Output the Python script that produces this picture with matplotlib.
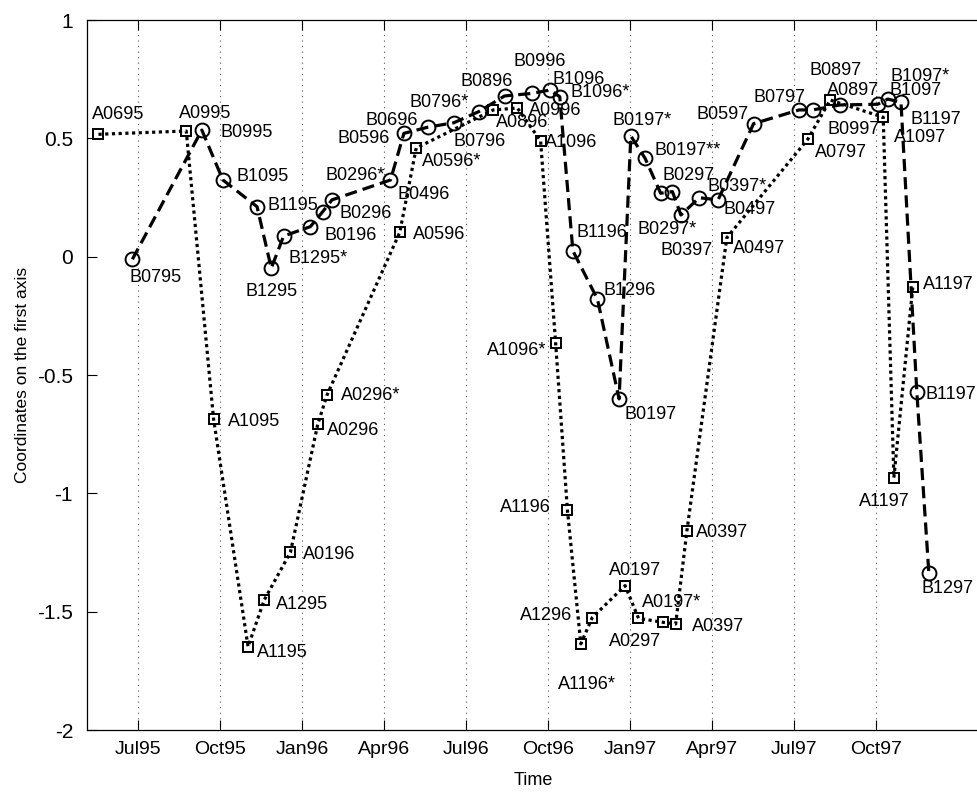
"""First-axis coordinates of the A and B monthly series, mid-1995 to end-1997.

Time is in months since Jan 1995 (6 = Jul95).
"""

import matplotlib
matplotlib.use("Agg")
import matplotlib.pyplot as plt

plt.rcParams["font.family"] = ["Liberation Sans", "DejaVu Sans"]

# --- series A (dotted, squares) ---
A_T = [4.56, 7.77, 8.77, 10.03, 10.62, 11.58, 12.58, 12.92, 15.58, 16.18,
       19.00, 19.88, 20.73, 21.28, 21.71, 22.20, 22.62, 23.82, 24.31, 25.21,
       25.67, 26.08, 27.54, 30.50, 31.32, 33.26, 33.65, 34.34]
A_V = [0.517, 0.531, -0.687, -1.648, -1.451, -1.249, -0.708, -0.584, 0.103, 0.459,
       0.620, 0.628, 0.489, -0.366, -1.070, -1.636, -1.525, -1.390, -1.528, -1.545,
       -1.552, -1.159, 0.080, 0.496, 0.662, 0.589, -0.934, -0.129]
A_LABELS = ["A0695", "A0995", "A1095", "A1195", "A1295", "A0196", "A0296", "A0296*",
            "A0596", "A0596*", "A0896", "A0996", "A1096", "A1096*", "A1196", "A1196*",
            "A1296", "A0197", "A0297", "A0197*", "A0397", "A0397", "A0497", "A0797",
            "A0897", "A1097", "A1197", "A1197"]

# --- series B (dashed, circles) ---
B_T = [5.80, 8.34, 9.11, 10.36, 10.88, 11.33, 12.31, 12.76, 13.10, 15.24,
       15.73, 16.60, 17.56, 18.47, 19.41, 20.43, 21.06, 21.43, 21.91, 22.81,
       23.60, 24.03, 24.55, 25.12, 25.55, 25.86, 26.53, 27.22, 28.52, 30.18,
       30.68, 31.68, 33.06, 33.43, 33.91, 34.49, 34.93]
B_V = [-0.011, 0.535, 0.324, 0.211, -0.049, 0.087, 0.127, 0.190, 0.240, 0.324,
       0.521, 0.547, 0.566, 0.613, 0.679, 0.690, 0.704, 0.676, 0.025, -0.180,
       -0.601, 0.510, 0.416, 0.268, 0.275, 0.176, 0.249, 0.240, 0.562, 0.620,
       0.620, 0.641, 0.644, 0.666, 0.652, -0.573, -1.338]
B_LABELS = ["B0795", "B0995", "B1095", "B1195", "B1295", "B1295*", "B0196", "B0296",
            "B0296*", "B0496", "B0596", "B0696", "B0796", "B0796*", "B0896", "B0996",
            "B1096", "B1096*", "B1196", "B1296", "B0197", "B0197*", "B0197**", "B0297",
            "B0297*", "B0397", "B0397*", "B0497", "B0597", "B0797", "B0897", "B0997",
            "B1097", "B1097*", "B1197", "B1197", "B1297"]

TICK_MONTHS = [6, 9, 12, 15, 18, 21, 24, 27, 30, 33]
TICK_LABELS = ["Jul95", "Oct95", "Jan96", "Apr96", "Jul96", "Oct96",
               "Jan97", "Apr97", "Jul97", "Oct97"]

# label placement: offset of the text centre from its point, in pixels (y down)
A_OFFSETS = [(20, -21.6), (19.3, -19.8), (40.7, 0), (34.6, 4.3), (38.3, 2.5),
             (39, 0), (35.7, 4.7), (43.3, -1), (39, 0), (36, 11), (29, 11),
             (38.3, 0), (30.3, 0), (-39, 5.5), (-42, -4.5), (6.5, 39), (-45.7, -3.7),
             (10.4, -16.7), (-3.4, 21.4), (8.7, -21.5), (42.2, 1), (35, 0), (32.3, 9),
             (32.8, 11.5), (23.2, -11.3), (36.7, 18.5), (-9.7, 22), (35.8, -4.3)]
B_OFFSETS = [(23, 16.2), (45, 0.3), (40, -5.8), (35.8, -3.4), (0.3, 21.7), (34.7, 20.3),
             (40, 7.3), (42.7, -0.7), (23.3, -26), (32.8, 12.5), (-40.3, 2.7),
             (-35.8, -8.3), (25.7, 16.3), (-39.3, -11.4), (-18, -16), (7.3, -33.6),
             (28.7, -13), (41, -5.7), (29, -20.7), (32.3, -10.3), (31.7, 14),
             (10.8, -17.3), (42.4, -9.3), (28, -19.3), (-5, 36.3), (5.8, 33),
             (37.5, -13.7), (32, 7.5), (-31, -11.2), (-19, -14.7), (23, -41.3),
             (14, 22.5), (38.3, -16), (32.3, -25), (35, 15.2), (34.3, 0.2), (19, 13.4)]

LABEL_SIZE = 13


def label_points(ax, ts, vs, labels, offsets):
    for t, v, lab, (dx, dy) in zip(ts, vs, labels, offsets):
        # offsets are to the visual centre of the caps; shift to baseline
        ax.annotate(lab, (t, v), textcoords="offset pixels",
                    xytext=(dx, -(dy + 6.5)), ha="center", va="baseline",
                    fontsize=LABEL_SIZE, zorder=5)


def main():
    fig = plt.figure(figsize=(9.78, 7.95), dpi=100)
    ax = fig.add_axes([87 / 978, 65 / 795, 893 / 978, 710 / 795])

    ax.plot(A_T, A_V, color="black", lw=2.3, ls=(0, (1, 1.1)),
            marker="s", ms=6.5, mfc="none", mec="black", mew=1.4, zorder=3)
    ax.plot(B_T, B_V, color="black", lw=2.3, ls=(0, (3.8, 1.9)),
            marker="o", ms=10, mfc="none", mec="black", mew=1.4, zorder=3)

    label_points(ax, A_T, A_V, A_LABELS, A_OFFSETS)
    label_points(ax, B_T, B_V, B_LABELS, B_OFFSETS)

    ax.set_xlim(4.14, 36.8)
    ax.set_ylim(-2, 1)
    ax.set_xticks(TICK_MONTHS)
    ax.set_xticklabels(TICK_LABELS)
    ax.set_yticks([-2, -1.5, -1, -0.5, 0, 0.5, 1])
    ax.set_yticklabels(["-2", "-1.5", "-1", "-0.5", "0", "0.5", "1"])
    ax.tick_params(axis="both", direction="in", length=7, width=0.8)
    ax.tick_params(axis="x", top=True, labelsize=14, pad=8)
    ax.tick_params(axis="y", labelsize=15, pad=10)
    ax.grid(True, axis="x", ls=(0, (1, 4)), color="#555555", lw=0.8)
    for sp in ax.spines.values():
        sp.set_linewidth(0.9)

    ax.set_xlabel("Time", fontsize=13, labelpad=10)
    ax.set_ylabel("Coordinates on the first axis", fontsize=12.5, labelpad=5)

    fig.savefig("out.png", dpi=100)


if __name__ == "__main__":
    main()
